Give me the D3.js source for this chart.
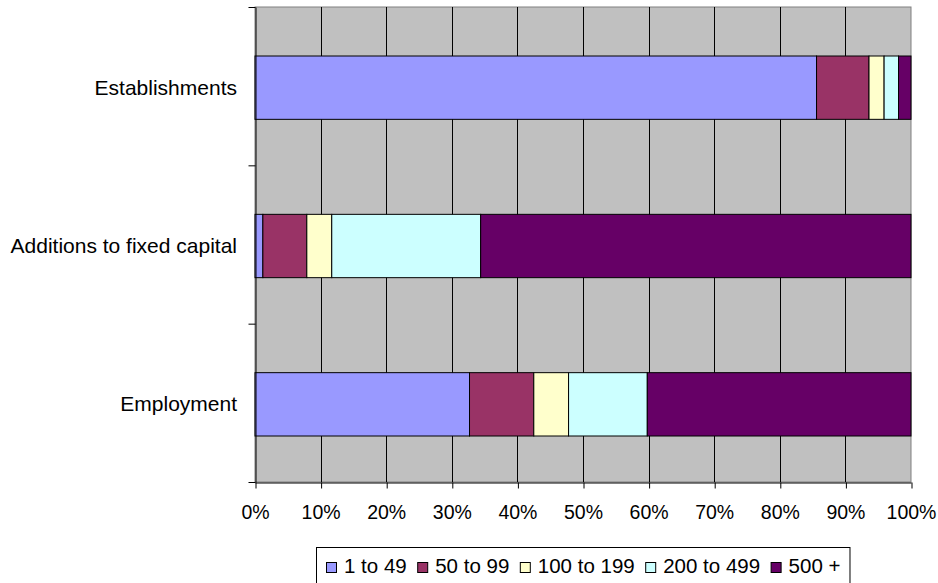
<!DOCTYPE html>
<html>
<head>
<meta charset="utf-8">
<script src="https://cdn.jsdelivr.net/npm/d3@7"></script>
<style>
    body { margin: 0; background: #fff; }
    text { font-family: "Liberation Sans", Arial, sans-serif; fill: #000; }
</style>
</head>
<body>
<div class="chart"></div>
<script>
// shares by size class (number of employees) in %
const categories = ["Establishments", "Additions to fixed capital", "Employment"];
const sizeClasses = ["1 to 49", "50 to 99", "100 to 199", "200 to 499", "500 +"];
const establishments = [85.6, 8.0, 2.3, 2.2, 1.9];
const additions = [1.2, 6.7, 3.8, 22.7, 65.6];
const employment = [32.7, 9.8, 5.3, 12.0, 40.2];
const xTicks = [0, 0.1, 0.2, 0.3, 0.4, 0.5, 0.6, 0.7, 0.8, 0.9, 1];

const colors = ["#9999FF", "#993366", "#FFFFCC", "#CCFFFF", "#660066"];

const width = 938, height = 583;
var plot = { left: 255, right: 911, top: 7, bottom: 482 };

// build rows for d3.stack
let seriesByCat = [establishments, additions, employment];
let rows = categories.map(function (c, i) {
    let row = { category: c };
    sizeClasses.forEach(function (s, j) { row[s] = seriesByCat[i][j] / 100; });
    return row;
});
let stacked = d3.stack().keys(sizeClasses)(rows);

var x = d3.scaleLinear().domain([0, 1]).range([plot.left, plot.right]);
var y = d3.scaleBand()
    .domain(categories)
    .range([plot.top, plot.bottom])
    .paddingInner(0.6)
    .paddingOuter(0.3);
var color = d3.scaleOrdinal().domain(sizeClasses).range(colors);

var svg = d3.select(".chart").append("svg")
    .attr("width", width)
    .attr("height", height);

// plot area
svg.append("rect")
    .attr("x", plot.left)
    .attr("y", plot.top)
    .attr("width", plot.right - plot.left)
    .attr("height", plot.bottom - plot.top)
    .attr("fill", "#C0C0C0")
    .attr("stroke", "#808080");

// vertical gridlines
svg.append("g").selectAll("line")
    .data(xTicks.slice(1, -1))
    .enter().append("line")
    .attr("x1", function (d) { return Math.round(x(d)) + 0.5; })
    .attr("x2", function (d) { return Math.round(x(d)) + 0.5; })
    .attr("y1", plot.top)
    .attr("y2", plot.bottom)
    .attr("stroke", "#000");

// bars
svg.append("g").selectAll("g")
    .data(stacked)
    .enter().append("g")
    .attr("fill", function (d) { return color(d.key); })
    .selectAll("rect")
    .data(function (d) { return d; })
    .enter().append("rect")
    .attr("x", function (d) { return x(d[0]); })
    .attr("y", function (d) { return y(d.data.category) + 1.5; })
    .attr("width", function (d) { return x(d[1]) - x(d[0]); })
    .attr("height", y.bandwidth())
    .attr("stroke", "#000")
    .attr("stroke-width", 1);

// x axis
var xAxis = svg.append("g")
    .attr("transform", "translate(0," + (plot.bottom + 0.5) + ")")
    .call(d3.axisBottom(x)
        .tickValues(xTicks)
        .tickFormat(d3.format(".0%"))
        .tickSize(6)
        .tickSizeOuter(0)
        .tickPadding(17));
xAxis.selectAll("text").attr("font-size", "19.5px");
xAxis.selectAll("line, path").attr("stroke", "#000");
xAxis.selectAll(".tick line").attr("transform", "translate(0.5,0)");

// y axis: ticks sit on category boundaries
var yEdge = d3.scaleLinear().domain([0, categories.length]).range([plot.top, plot.bottom]);
var yAxis = svg.append("g")
    .attr("transform", "translate(" + (plot.left + 0.5) + ",0)")
    .call(d3.axisLeft(yEdge)
        .tickValues(d3.range(categories.length + 1))
        .tickFormat("")
        .tickSize(7)
        .tickSizeOuter(0));
yAxis.selectAll("line, path").attr("stroke", "#000");

svg.append("g").selectAll("text")
    .data(categories)
    .enter().append("text")
    .attr("x", plot.left - 18)
    .attr("y", function (d) { return y(d) + y.bandwidth() / 2 + 8.5; })
    .attr("text-anchor", "end")
    .attr("font-size", "21px")
    .text(function (d) { return d; });

// legend
var legend = svg.append("g");
var legendBox = legend.append("rect")
    .attr("fill", "#fff")
    .attr("stroke", "#000");

let lx = 0;
sizeClasses.forEach(function (s) {
    let item = legend.append("g").attr("transform", "translate(" + lx + ",0)");
    item.append("rect")
        .attr("x", 0.5)
        .attr("y", 562.5)
        .attr("width", 10)
        .attr("height", 10)
        .attr("fill", color(s))
        .attr("stroke", "#000");
    let t = item.append("text")
        .attr("x", 18)
        .attr("y", 573)
        .attr("font-size", "20.5px")
        .text(s);
    lx += 18 + t.node().getComputedTextLength() + 10.5;
});
lx -= 10.5;
let legendLeft = Math.round((plot.left + plot.right) / 2 - lx / 2);
legend.selectAll("g").attr("transform", function () {
    return this.getAttribute("transform").replace(/translate\(([\d.]+)/, function (m, v) {
        return "translate(" + (Number(v) + legendLeft);
    });
});
legendBox
    .attr("x", legendLeft - 9.5)
    .attr("y", 547.5)
    .attr("width", lx + 19)
    .attr("height", 50);
</script>
</body>
</html>
